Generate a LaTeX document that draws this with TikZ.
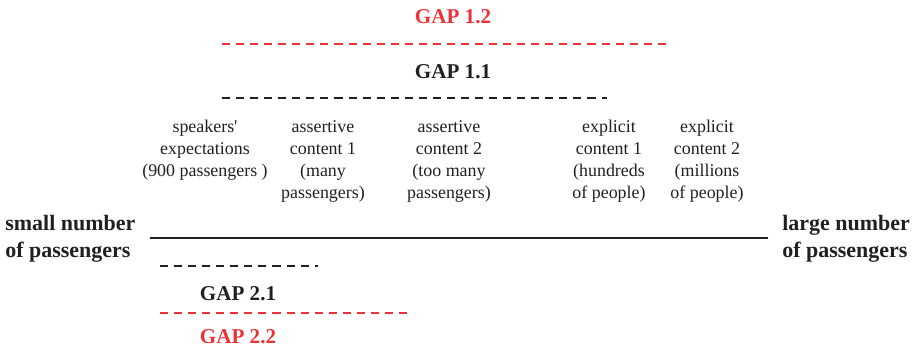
\documentclass[tikz,border=0pt]{standalone}
\usepackage{fontspec}
\setmainfont{Liberation Serif}
\usepackage{xcolor}
\usetikzlibrary{positioning}
\definecolor{GapRed}{RGB}{237,50,55}
\definecolor{InkGray}{RGB}{35,31,32}
\newcommand{\straightquote}{\XeTeXglyph\XeTeXcharglyph"27\relax}

\begin{document}
\begin{tikzpicture}[x=0.02cm, y=-0.02cm, color=InkGray,
		gaplabel/.style={font=\bfseries\fontsize{12}{14}\selectfont, inner sep=0pt},
		gapline/.style={line width=1.1pt, dash pattern=on 4.6pt off 3.4pt},
		colnote/.style={align=center, anchor=north, inner sep=0pt, font=\fontsize{10.2}{12.5}\selectfont},
		endnote/.style={align=left, anchor=west, inner sep=0pt, font=\bfseries\fontsize{12.5}{15.3}\selectfont}]
				\useasboundingbox (0,0) rectangle (917,350);
				% upper gaps
				\coordinate (g12a) at (222,44);
				\coordinate (g12b) at (668,44);
				\coordinate (g11a) at (222,98);
				\coordinate (g11b) at (607,98);
				\node[gaplabel, GapRed] (gap12) at (453,17) {GAP 1.2};
				\draw[gapline, GapRed] (g12a) -- (g12b);
				\node[gaplabel] (gap11) at (453,72) {GAP 1.1};
				\draw[gapline] (g11a) -- (g11b);
				% contents along the scale
				\node[colnote] (expect) at (205,120) {speakers\straightquote\\expectations\\(900 passengers )};
				\node[colnote] (assert1) at (323,120) {assertive\\content 1\\(many\\passengers)};
				\node[colnote] (assert2) at (449,120) {assertive\\content 2\\(too many\\passengers)};
				\node[colnote] (explic1) at (609,120) {explicit\\content 1\\(hundreds\\of people)};
				\node[colnote] (explic2) at (707,120) {explicit\\content 2\\(millions\\of people)};
				% the scale
				\node[endnote] (small) at (5,239) {small number\\of passengers};
				\node[endnote] (large) at (782,239) {large number\\of passengers};
				\coordinate (scaleA) at (150,238);
				\coordinate (scaleB) at (768,238);
				\draw[line width=1.1pt] (scaleA) -- (scaleB);
				% lower gaps
				\coordinate (g21a) at (160,266);
				\coordinate (g21b) at (318,266);
				\coordinate (g22a) at (160,313);
				\coordinate (g22b) at (410,313);
				\draw[gapline] (g21a) -- (g21b);
				\node[gaplabel] (gap21) at (238,294) {GAP 2.1};
				\draw[gapline, GapRed] (g22a) -- (g22b);
				\node[gaplabel, GapRed] (gap22) at (238,337) {GAP 2.2};
\end{tikzpicture}
\end{document}
